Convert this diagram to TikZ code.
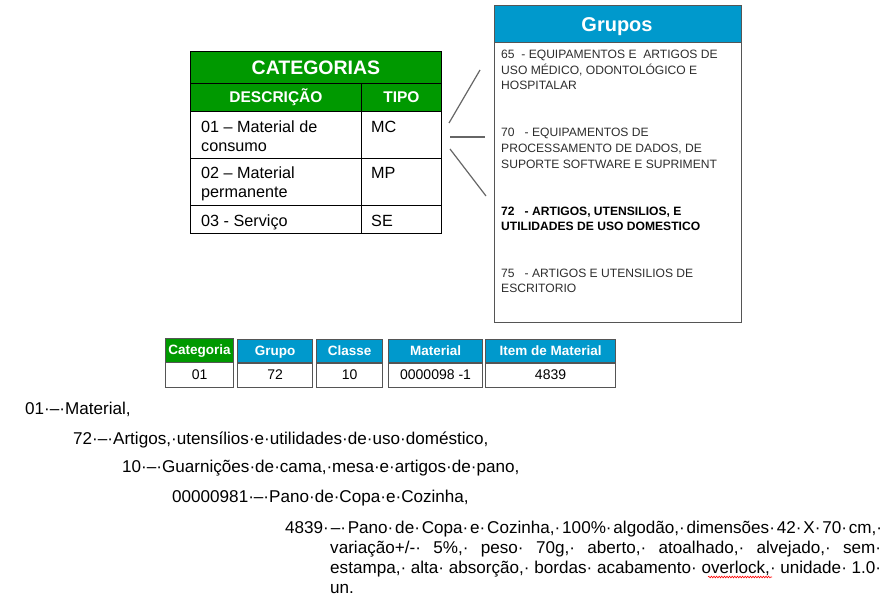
\documentclass[tikz,border=0pt]{standalone}
\usepackage{fontspec}
\setmainfont{Liberation Sans}
\usetikzlibrary{decorations.pathmorphing}
\definecolor{catgreen}{RGB}{0,153,0}
\definecolor{grpblue}{RGB}{0,153,204}
\definecolor{txtgray}{RGB}{45,45,45}
\definecolor{boxgray}{RGB}{85,85,85}
\newcommand\jsp{·\hskip 0pt plus 20pt minus 4pt\relax}
\begin{document}
\begin{tikzpicture}[x=1pt,y=-1pt,
  tabcell/.style={draw=black,line width=0.9pt,inner sep=0pt,anchor=north west},
  headcell/.style={tabcell,text=white,font=\bfseries\fontsize{15.5}{17}\selectfont},
  txt/.style={inner sep=0pt,anchor=base west,font=\fontsize{16.2}{19}\selectfont},
  gtxt/.style={inner sep=0pt,anchor=base west,text=txtgray,font=\fontsize{12.1}{14}\selectfont},
  gbold/.style={gtxt,text=black,font=\bfseries\fontsize{12.1}{14}\selectfont},
  codehead/.style={draw=boxgray,line width=1.1pt,inner sep=0pt,anchor=north west,minimum height=24pt,text height=10pt,text depth=3pt,text=white,font=\bfseries\fontsize{13.5}{15}\selectfont},
  codeval/.style={draw=boxgray,line width=1.1pt,inner sep=0pt,anchor=north west,minimum height=25pt,font=\fontsize{14}{16}\selectfont},
  btxt/.style={inner sep=0pt,anchor=base west,font=\fontsize{17.1}{18}\selectfont},
  link/.style={draw=gray!80!black,line width=1.2pt}]
\useasboundingbox (0,0) rectangle (891,604);

% CATEGORIAS table
\node[tabcell,fill=catgreen,text=white,minimum width=251pt,minimum height=32pt,font=\bfseries\fontsize{19.5}{21}\selectfont] (cattitle) at (190,51) {CATEGORIAS};
\node[headcell,fill=catgreen,minimum width=171pt,minimum height=28pt] (hdesc) at (190,83) {DESCRIÇÃO};
\node[headcell,fill=catgreen,minimum width=80pt,minimum height=28pt] (htipo) at (361,83) {TIPO};
\node[tabcell,minimum width=171pt,minimum height=47pt] (r1a) at (190,111) {};
\node[tabcell,minimum width=80pt,minimum height=47pt] (r1b) at (361,111) {};
\node[tabcell,minimum width=171pt,minimum height=47pt] (r2a) at (190,158) {};
\node[tabcell,minimum width=80pt,minimum height=47pt] (r2b) at (361,158) {};
\node[tabcell,minimum width=171pt,minimum height=28pt] (r3a) at (190,205) {};
\node[tabcell,minimum width=80pt,minimum height=28pt] (r3b) at (361,205) {};
\node[txt] (t1a) at (201,132.5) {01 – Material de};
\node[txt] (t1b) at (201,152) {consumo};
\node[txt] (t1c) at (371,132.5) {MC};
\node[txt] (t2a) at (201,179) {02 – Material};
\node[txt] (t2b) at (201,197) {permanente};
\node[txt] (t2c) at (371,179) {MP};
\node[txt] (t3a) at (201,226.5) {03 - Serviço};
\node[txt] (t3c) at (371,226.5) {SE};

% connectors
\coordinate (l1a) at (449,123); \coordinate (l1b) at (480,70);
\coordinate (l2a) at (450,137); \coordinate (l2b) at (485,137);
\coordinate (l3a) at (450,149); \coordinate (l3b) at (486,196);
\draw[link] (l1a) -- (l1b);
\draw[link] (l2a) -- (l2b);
\draw[link] (l3a) -- (l3b);

% Grupos box
\node[draw=boxgray,line width=1.3pt,inner sep=0pt,anchor=north west,minimum width=247pt,minimum height=317pt] (grupos) at (494,5) {};
\node[draw=boxgray,line width=1.3pt,fill=grpblue,inner sep=0pt,anchor=north west,minimum width=247pt,minimum height=37pt] (ghead) at (494,5) {};
\node[text=white,inner sep=0pt,anchor=base,font=\bfseries\fontsize{20}{22}\selectfont] (gtitle) at (617,32) {Grupos};
\node[gtxt] (g1a) at (501,58.5) {65\ \ - EQUIPAMENTOS E\ \ ARTIGOS DE};
\node[gtxt] (g1b) at (501,74.3) {USO MÉDICO, ODONTOLÓGICO E};
\node[gtxt] (g1c) at (501,90) {HOSPITALAR};
\node[gtxt] (g2a) at (501,137) {70\ \ \ - EQUIPAMENTOS DE};
\node[gtxt] (g2b) at (501,152.8) {PROCESSAMENTO DE DADOS, DE};
\node[gtxt] (g2c) at (501,168.5) {SUPORTE SOFTWARE E SUPRIMENT};
\node[gbold] (g3a) at (501,215.2) {72\ \ \ - ARTIGOS, UTENSILIOS, E};
\node[gbold] (g3b) at (501,230.5) {UTILIDADES DE USO DOMESTICO};
\node[gtxt] (g4a) at (501,277.5) {75\ \ \ - ARTIGOS E UTENSILIOS DE};
\node[gtxt] (g4b) at (501,292) {ESCRITORIO};

% code boxes
\node[codehead,fill=catgreen,minimum width=68pt] (hcat) at (165,338) {Categoria};
\node[codeval,minimum width=68pt] (vcat) at (165,362) {01};
\node[codehead,fill=grpblue,minimum width=75pt] (hgrp) at (237,339) {Grupo};
\node[codeval,minimum width=75pt] (vgrp) at (237,362) {72};
\node[codehead,fill=grpblue,minimum width=66pt] (hcla) at (316,339) {Classe};
\node[codeval,minimum width=66pt] (vcla) at (316,362) {10};
\node[codehead,fill=grpblue,minimum width=94pt] (hmat) at (388,339) {Material};
\node[codeval,minimum width=94pt] (vmat) at (388,362) {0000098 -1};
\node[codehead,fill=grpblue,minimum width=130pt] (hitem) at (485,339) {Item de Material};
\node[codeval,minimum width=130pt] (vitem) at (485,362) {4839};

% bottom text
\node[btxt] (b1) at (25,414) {01·–·Material,};
\node[btxt] (b2) at (73,444) {72·–·Artigos,·utensílios·e·utilidades·de·uso·doméstico,};
\node[btxt] (b3) at (122,472) {10·–·Guarnições·de·cama,·mesa·e·artigos·de·pano,};
\node[btxt] (b4) at (172,502) {00000981·–·Pano·de·Copa·e·Cozinha,};
\node[btxt] (p1) at (285,533) {\hbox to 597pt{4839\jsp–\jsp Pano\jsp de\jsp Copa\jsp e\jsp Cozinha,\jsp 100\%\jsp algodão,\jsp dimensões\jsp 42\jsp X\jsp 70\jsp cm,·}};
\node[btxt] (p2) at (330,553) {\hbox to 551pt{variação+/-\jsp 5\%,\jsp peso\jsp 70g,\jsp aberto,\jsp atoalhado,\jsp alvejado,\jsp sem·}};
\node[btxt] (p3) at (330,573) {\hbox to 551pt{estampa,\jsp alta\jsp absorção,\jsp bordas\jsp acabamento\jsp overlock,\jsp unidade\jsp 1.0·}};
\node[btxt] (p4) at (330,593) {un.};
\coordinate (w1) at (708,577); \coordinate (w2) at (772,577);
\draw[red,line width=0.6pt,decorate,decoration={snake,amplitude=0.8pt,segment length=2.6pt}] (w1) -- (w2);
\end{tikzpicture}
\end{document}
